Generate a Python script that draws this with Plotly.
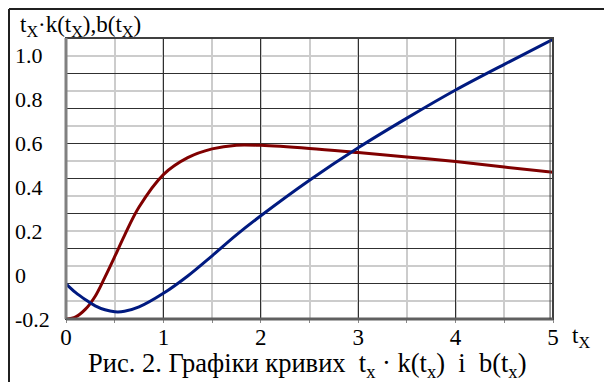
import plotly.graph_objects as go

# values
t = [0, 0.1, 0.2, 0.3, 0.4, 0.5, 0.6, 0.75, 1.0, 1.25, 1.5, 1.75, 2.0, 2.5, 3.0, 3.5, 4.0, 4.5, 5.0]
tk = [-0.2, -0.19, -0.155, -0.096, -0.009, 0.084, 0.18, 0.31, 0.458, 0.535, 0.575, 0.592, 0.591,
      0.577, 0.558, 0.538, 0.517, 0.492, 0.468]
b = [-0.04, -0.08, -0.112, -0.14, -0.158, -0.167, -0.165, -0.145, -0.083, -0.004, 0.088, 0.183, 0.27,
     0.432, 0.58, 0.715, 0.843, 0.96, 1.074]

y_labels = [-0.2, 0, 0.2, 0.4, 0.6, 0.8, 1.0]
y_text = ["-0.2", "0", "0.2", "0.4", "0.6", "0.8", "1.0"]
x_labels = [0, 1, 2, 3, 4, 5]

font = "Liberation Serif"
yr = [-0.2, 1.08]

# the page body has an 8px margin, so the figure is drawn 8px in from the window corner.
# All positions below are given in window pixels: plot area 66..553 x 38..319
OFF = 8
W, H = 612 - OFF, 382 - OFF
PL, PR = 12 - OFF, 612 - 553
PT, PB = 38 - OFF, 382 - 319
PW = W - PL - PR
PH = H - PT - PB
def px(x): return (x - OFF - PL) / PW
def py(y): return (319 - y) / PH

fig = go.Figure()
fig.add_trace(go.Scatter(x=t, y=tk, mode="lines", line=dict(color="#800000", width=3, shape="spline"),
                         showlegend=False))
fig.add_trace(go.Scatter(x=t, y=b, mode="lines", line=dict(color="#001a80", width=3, shape="spline"),
                         showlegend=False))
# invisible trace to activate the label axis
fig.add_trace(go.Scatter(x=[0], y=[0], yaxis="y2", mode="markers", marker=dict(opacity=0),
                         showlegend=False, hoverinfo="skip"))

fig.update_layout(
    width=W, height=H,
    margin=dict(l=PL, r=PR, t=PT, b=PB, autoexpand=False),
    paper_bgcolor="white", plot_bgcolor="white",
    font=dict(family=font, size=22, color="black"),
    xaxis=dict(domain=[px(66), 1], range=[0, 5], tickvals=x_labels, showgrid=True,
               gridcolor="#303030", gridwidth=1, automargin=False,
               minor=dict(tick0=0, dtick=0.5, showgrid=True, gridcolor="#cccccc", gridwidth=1.5,
                          ticks="outside", ticklen=3, tickcolor="#888"),
               tickfont=dict(family=font, size=23), ticks="", zeroline=False, showline=False,
               ticklabelstandoff=2),
    yaxis=dict(range=yr, tick0=-0.2, dtick=0.16, showticklabels=False, showgrid=True,
               gridcolor="#303030", gridwidth=1, automargin=False,
               minor=dict(tick0=-0.2, dtick=0.08, showgrid=True, gridcolor="#cccccc", gridwidth=1.5),
               zeroline=False, showline=False, ticks=""),
    yaxis2=dict(range=yr, overlaying="y", side="right", anchor="free", position=0, automargin=False,
                tickvals=y_labels, ticktext=y_text, tickfont=dict(family=font, size=22),
                showgrid=False, zeroline=False, showline=False, ticks="", ticklabelstandoff=2),
)

# plot frame
fig.add_shape(type="rect", xref="x domain", yref="y domain", x0=0, x1=1, y0=0, y1=1,
              line=dict(color="#404040", width=2))
fig.add_shape(type="line", xref="x domain", yref="y domain", x0=0, x1=0, y0=0, y1=1,
              line=dict(color="#808080", width=3))
fig.add_shape(type="line", xref="x domain", yref="y domain", x0=0, x1=1, y0=0, y1=0,
              line=dict(color="#606060", width=3))
fig.add_shape(type="line", xref="x domain", yref="y domain", x0=0.994, x1=0.994, y0=0, y1=1,
              line=dict(color="#404040", width=1))
# outer box (as close to the window corner as the page allows)
fig.add_shape(type="line", xref="paper", yref="paper", x0=px(9), x1=1.2, y0=py(9), y1=py(9),
              line=dict(color="#202020", width=2))
fig.add_shape(type="line", xref="paper", yref="paper", x0=px(9), x1=px(9), y0=py(9), y1=-0.3,
              line=dict(color="#202020", width=2))

fig.add_annotation(text="t<sub>X</sub>·k(t<sub>X</sub>),b(t<sub>X</sub>)", xref="paper", yref="paper",
                   x=px(18), y=py(26), xanchor="left", yanchor="middle", showarrow=False,
                   font=dict(family=font, size=23))
fig.add_annotation(text="t<sub>X</sub>", xref="paper", yref="paper",
                   x=px(570), y=py(337), xanchor="left", yanchor="middle", showarrow=False,
                   font=dict(family=font, size=23))
fig.add_annotation(text="Рис. 2. Графіки кривих  t<sub>x</sub> · k(t<sub>x</sub>)  і  b(t<sub>x</sub>)",
                   xref="paper", yref="paper", x=px(86), y=py(365),
                   xanchor="left", yanchor="middle", showarrow=False,
                   font=dict(family=font, size=26.5))

fig.write_html("out.html")
